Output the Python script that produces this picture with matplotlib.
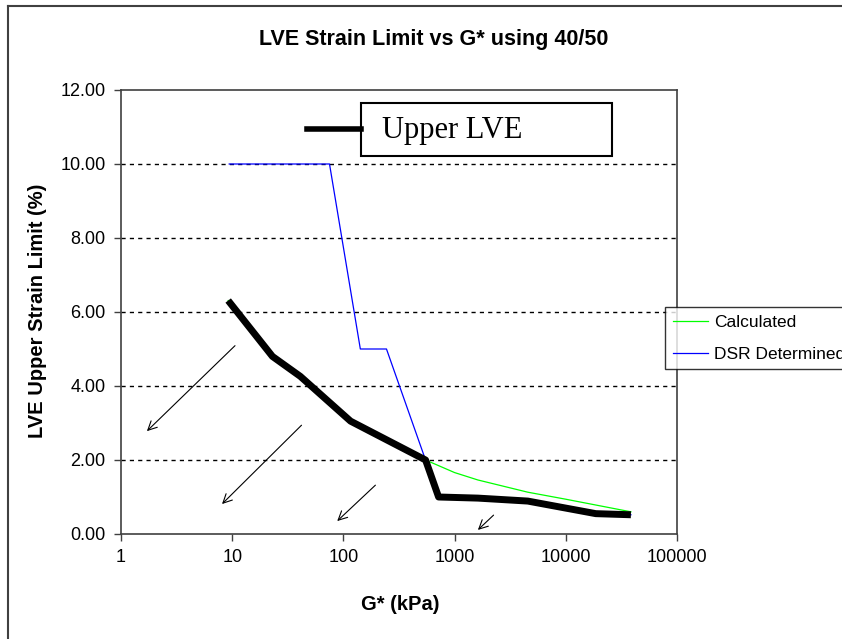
import matplotlib
matplotlib.use('Agg')
import matplotlib.pyplot as plt
import matplotlib.lines as mlines
import matplotlib.patches as mpatches

# data (G* in kPa, strain limit in %)
g_upper = [9.2, 23, 41, 116, 229, 548, 718, 1620, 4550, 18600, 38500]
upper_lve = [6.31, 4.80, 4.26, 3.05, 2.59, 2.0, 1.0, 0.97, 0.89, 0.55, 0.52]

g_calc = [9.2, 23, 41, 116, 229, 548, 1000, 1620, 4550, 10000, 38500]
calculated = [6.31, 4.80, 4.26, 3.05, 2.59, 2.0, 1.66, 1.46, 1.13, 0.94, 0.60]

g_dsr = [9.4, 75, 142, 244, 548, 718, 1620, 4550, 18600, 38500]
dsr = [10, 10, 5, 5, 2.0, 1.0, 0.97, 0.89, 0.55, 0.52]

x_ticks = [1, 10, 100, 1000, 10000, 100000]
y_ticks = [0, 2, 4, 6, 8, 10, 12]

# arrow annotations (tail, head) in data coordinates
arrows = [((10.6, 5.09), (1.71, 2.78)),
          ((42, 2.94), (8.1, 0.81)),
          ((194, 1.32), (88, 0.35)),
          ((2240, 0.51), (1620, 0.11))]

plt.rcParams['font.family'] = ['Liberation Sans', 'DejaVu Sans']

fig = plt.figure(figsize=(8.42, 6.39), dpi=100)
W, H = 842.0, 639.0
ax = fig.add_axes([121/W, 1-534/H, (677-121)/W, (534-90)/H])

ax.plot(g_dsr, dsr, color='#0000ff', linewidth=0.9, zorder=3, label='DSR Determined')
ax.plot(g_calc, calculated, color='#00ff00', linewidth=0.9, zorder=2, label='Calculated')
ax.plot(g_upper, upper_lve, color='black', linewidth=5, zorder=4, solid_capstyle='butt')

ax.set_xscale('log')
ax.set_xlim(1, 100000)
ax.set_ylim(0, 12)
ax.set_xticks(x_ticks)
ax.set_xticklabels([str(t) for t in x_ticks], fontsize=13)
ax.minorticks_off()
ax.set_yticks(y_ticks)
ax.set_yticklabels(['%.2f' % t for t in y_ticks], fontsize=13)
ax.tick_params(direction='out', length=5, width=1, color='#404040', pad=6)

for y in y_ticks[1:-1]:
    ax.axhline(y, color='black', linewidth=1, linestyle=(0, (3, 3)), zorder=1)

for s in ax.spines.values():
    s.set_color('#404040')
    s.set_linewidth(1.2)

fig.text(434/W, 1-40/H, 'LVE Strain Limit vs G* using 40/50', fontsize=15.5,
         fontweight='bold', ha='center', va='center')
ax.set_xlabel('G* (kPa)', fontsize=14.5, fontweight='bold')
ax.set_ylabel('LVE Upper Strain Limit (%)', fontsize=14.5, fontweight='bold')
ax.xaxis.set_label_coords(0.502, -0.137)
ax.yaxis.set_label_coords(-0.133, 0.502)

for (tail, head) in arrows:
    ax.annotate('', xy=head, xytext=tail,
                arrowprops=dict(arrowstyle='->', color='black', lw=0.8, mutation_scale=16,
                                shrinkA=0, shrinkB=0))

# "Upper LVE" key box
fig.add_artist(mlines.Line2D([307/W, 361/W], [1-129/H, 1-129/H], color='black', linewidth=4))
fig.add_artist(mpatches.Rectangle((361/W, 1-156/H), (612-361)/W, (156-103)/H,
                                  facecolor='white', edgecolor='black', linewidth=1.5))
fig.text(382/W, 1-130/H, 'Upper LVE', family='Liberation Serif', fontsize=22, va='center', ha='left')

leg = ax.legend(handles=ax.get_lines()[1::-1], loc='upper left',
                bbox_to_anchor=(665/W, 1-307/H), bbox_transform=fig.transFigure,
                fontsize=12.5, frameon=True, fancybox=False, edgecolor='black',
                handlelength=2.0, handletextpad=0.4, labelspacing=0.95, borderpad=0.45,
                borderaxespad=0)
leg.get_frame().set_linewidth(1)
leg.set_zorder(10)

# chart area border (left and top edges visible)
fig.add_artist(mlines.Line2D([8/W, 8/W], [0, 1-6/H], color='#404040', linewidth=1.5))
fig.add_artist(mlines.Line2D([8/W, 1], [1-6/H, 1-6/H], color='#404040', linewidth=1.5))

fig.savefig('out.png', dpi=100)
